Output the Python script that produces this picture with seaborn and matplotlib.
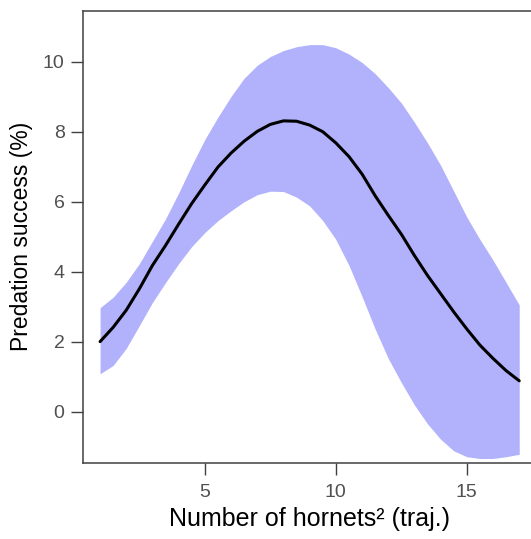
import numpy as np
import pandas as pd
import seaborn as sns
import matplotlib.pyplot as plt

# valores
hornets = [1, 1.5, 2, 2.5, 3, 3.5, 4, 4.5, 5, 5.5, 6, 6.5, 7, 7.5, 8, 8.5, 9,
           9.5, 10, 10.5, 11, 11.5, 12, 12.5, 13, 13.5, 14, 14.5, 15, 15.5, 16, 16.5, 17]
success = [2.00, 2.41, 2.90, 3.51, 4.18, 4.75, 5.36, 5.95, 6.48, 6.99, 7.39, 7.73, 8.01,
           8.21, 8.31, 8.30, 8.19, 8.00, 7.68, 7.29, 6.79, 6.17, 5.61, 5.07, 4.46, 3.89,
           3.37, 2.85, 2.36, 1.90, 1.52, 1.17, 0.88]
upper = [2.97, 3.27, 3.70, 4.23, 4.87, 5.51, 6.25, 7.04, 7.78, 8.42, 9.01, 9.53, 9.90,
         10.15, 10.32, 10.43, 10.49, 10.49, 10.40, 10.22, 9.98, 9.66, 9.26, 8.82, 8.27,
         7.68, 7.04, 6.30, 5.56, 4.92, 4.33, 3.69, 3.05]
lower = [1.08, 1.32, 1.81, 2.46, 3.12, 3.69, 4.23, 4.72, 5.12, 5.46, 5.74, 6.00, 6.20,
         6.30, 6.29, 6.13, 5.88, 5.46, 4.92, 4.18, 3.29, 2.36, 1.52, 0.83, 0.19, -0.35,
         -0.79, -1.12, -1.29, -1.34, -1.34, -1.29, -1.22]

df = pd.DataFrame({'hornets': hornets, 'success': success, 'upper': upper, 'lower': lower})

sns.set_style('white')
plt.rcParams['font.family'] = ['Liberation Sans', 'DejaVu Sans']

fig = plt.figure(figsize=(5.31, 5.39), dpi=100)
ax = fig.add_axes([0.1569, 0.1416, 0.8525, 0.8386])

# =========================
# BANDA + CURVA
# =========================
ax.fill_between(df['hornets'], df['lower'], df['upper'], color='#B2B2FC', linewidth=0)
sns.lineplot(data=df, x='hornets', y='success', color='black', linewidth=2.2, ax=ax)

ax.set_xlim(0.36, 17.64)
ax.set_ylim(-1.46, 11.46)
ax.set_xticks([5, 10, 15])
ax.set_yticks([0, 2, 4, 6, 8, 10])

for side in ['left', 'bottom', 'top']:
    ax.spines[side].set_color('#404040')
    ax.spines[side].set_linewidth(1.1)
ax.spines['right'].set_visible(False)

ax.tick_params(axis='both', direction='out', length=8.5, width=1.0, color='#404040',
               labelsize=14, labelcolor='#505050', pad=5)
ax.tick_params(axis='x', pad=7)
ax.tick_params(left=True, bottom=True)

ax.set_xlabel('Number of hornets² (traj.)', fontsize=18, color='black', labelpad=4)
ax.set_ylabel('Predation success (%)', fontsize=16.5, color='black', labelpad=7)

plt.savefig('out.png', dpi=100)
